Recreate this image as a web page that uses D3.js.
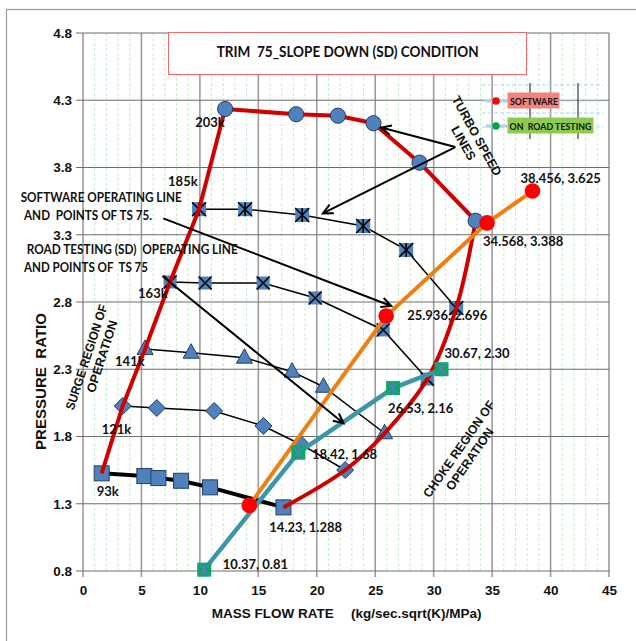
<!DOCTYPE html>
<html>
<head>
<meta charset="utf-8">
<script src="https://cdn.jsdelivr.net/npm/d3@7"></script>
<style>
  body { margin: 0; background: #fff; }
  svg text { font-family: "Liberation Sans", Arial, sans-serif; font-weight: bold; fill: #111; }
  svg text.cal { font-family: Lato, "Open Sans", sans-serif; }
</style>
</head>
<body>
<svg id="chart" width="636" height="641"></svg>
<script>
// ---- data ----
const xTicks = [0, 5, 10, 15, 20, 25, 30, 35, 40, 45];
const yTicks = [0.8, 1.3, 1.8, 2.3, 2.8, 3.3, 3.8, 4.3, 4.8];

const speedNames = ["93k", "121k", "141k", "163k", "185k", "203k"];
const flow93  = [1.60, 5.25, 6.45, 8.39, 10.87, 17.15];
const pr93    = [1.526, 1.506, 1.491, 1.471, 1.422, 1.273];
const flow121 = [3.40, 6.31, 11.22, 15.44, 18.72, 22.43];
const pr121   = [2.027, 2.012, 1.990, 1.878, 1.737, 1.551];
const flow141 = [5.31, 9.25, 13.81, 17.89, 20.57, 25.80];
const pr141   = [2.451, 2.423, 2.386, 2.282, 2.170, 1.824];
const flow163 = [7.45, 10.45, 15.41, 19.86, 25.68, 29.45];
const pr163   = [2.949, 2.941, 2.941, 2.830, 2.592, 2.227];
const flow185 = [9.93, 13.87, 18.75, 23.97, 27.65, 31.93];
const pr185   = [3.490, 3.490, 3.447, 3.365, 3.187, 2.755];
const flow203 = [12.16, 18.24, 21.81, 24.85, 28.79, 33.59];
const pr203   = [4.235, 4.196, 4.185, 4.129, 3.836, 3.404];

const softFlow = [14.23, 25.936, 34.568, 38.456];
const softPR   = [1.288, 2.696, 3.388, 3.625];
const softText = ["14.23, 1.288", "25.936, 2.696", "34.568, 3.388", "38.456, 3.625"];

const roadFlow = [10.37, 18.42, 26.53, 30.67];
const roadPR   = [0.81, 1.68, 2.16, 2.30];
const roadText = ["10.37, 0.81", "18.42, 1.68", "26.53, 2.16", "30.67, 2.30"];

// ---- layout ----
const svg = d3.select("#chart");
const x = d3.scaleLinear().domain([0, 45]).range([83, 609]);
const y = d3.scaleLinear().domain([0.8, 4.8]).range([571, 33]);

const speedFlows = [flow93, flow121, flow141, flow163, flow185, flow203];
const speedPRs = [pr93, pr121, pr141, pr163, pr185, pr203];
const speedMarkers = ["square", "diamond", "triangle", "xbox", "starbox", "circle"];
const speedLabelOff = [[-5, 23], [-21, 28], [-30, 17], [-32, 16], [-31, -23], [-30, 18]];

const speedLines = speedNames.map((name, i) => ({
  name: name,
  marker: speedMarkers[i],
  pts: speedFlows[i].map((f, j) => [f, speedPRs[i][j]])
}));

// outer frame
svg.append("rect").attr("x", 6.5).attr("y", 9.5).attr("width", 700).attr("height", 700)
  .attr("fill", "none").attr("stroke", "#9a9a9a").attr("stroke-width", 1.2);

// minor grid
const minorX = d3.range(1, 45).filter(v => v % 5 !== 0);
svg.append("g").selectAll("line").data(minorX).enter().append("line")
  .attr("x1", d => x(d)).attr("x2", d => x(d)).attr("y1", y(4.8)).attr("y2", y(0.8))
  .attr("stroke", "#c8eec8").attr("stroke-width", 1).attr("stroke-dasharray", "3,2");

// major grid
svg.append("g").selectAll("line").data(xTicks).enter().append("line")
  .attr("x1", d => x(d)).attr("x2", d => x(d)).attr("y1", y(4.8)).attr("y2", y(0.8) + 6)
  .attr("stroke", "#9c9c9c").attr("stroke-width", 1.6);
svg.append("g").selectAll("line").data(yTicks).enter().append("line")
  .attr("x1", x(0) - 7).attr("x2", x(45)).attr("y1", d => y(d)).attr("y2", d => y(d))
  .attr("stroke", "#6e6e6e").attr("stroke-width", 1.1);

// axes (labels only, grid draws the lines)
const yAxis = svg.append("g").attr("transform", `translate(${x(0)},0)`)
  .call(d3.axisLeft(y).tickValues(yTicks).tickFormat(d3.format(".1f")).tickSize(0).tickPadding(11));
const xAxis = svg.append("g").attr("transform", `translate(0,${y(0.8)})`)
  .call(d3.axisBottom(x).tickValues(xTicks).tickSize(0).tickPadding(14));
[yAxis, xAxis].forEach(a => {
  a.select(".domain").remove();
  a.selectAll("text").attr("font-size", 13.5).attr("fill", "#111")
    .style("font-family", '"Liberation Sans", Arial, sans-serif').style("font-weight", "bold");
});

// axis titles
svg.append("text").attr("x", 211.7).attr("y", 618).attr("font-size", 13.5).text("MASS FLOW RATE");
svg.append("text").attr("x", 351).attr("y", 618).attr("font-size", 13.5).text("(kg/sec.sqrt(K)/MPa)");
svg.append("text").attr("transform", "translate(46,381.5) rotate(-90)").attr("text-anchor", "middle")
  .attr("font-size", 15).attr("textLength", 137).attr("lengthAdjust", "spacingAndGlyphs")
  .style("white-space", "pre").text("PRESSURE  RATIO");

// title box
svg.append("rect").attr("x", 168.5).attr("y", 32.5).attr("width", 358).attr("height", 42)
  .attr("fill", "#fff").attr("stroke", "#ee6a6a").attr("stroke-width", 1);
svg.append("text").attr("class", "cal").attr("x", 216.7).attr("y", 57).attr("font-size", 15)
  .attr("textLength", 262).attr("lengthAdjust", "spacingAndGlyphs").style("white-space", "pre")
  .text("TRIM  75_SLOPE DOWN (SD) CONDITION");

// legend
const lg = svg.append("g");
[85, 101, 113, 127].forEach(v => {
  lg.append("line").attr("x1", 482).attr("x2", 603).attr("y1", v).attr("y2", v)
    .attr("stroke", "#a6d8f2").attr("stroke-width", 1.2).attr("stroke-dasharray", "4,2");
});
[530, 578].forEach(v => {
  lg.append("line").attr("x1", v).attr("x2", v).attr("y1", 83).attr("y2", 139)
    .attr("stroke", "#555").attr("stroke-width", 1.4);
});
lg.append("line").attr("x1", 486).attr("x2", 507).attr("y1", 101).attr("y2", 101).attr("stroke", "#b9cdea").attr("stroke-width", 3);
lg.append("line").attr("x1", 486).attr("x2", 507).attr("y1", 126).attr("y2", 126).attr("stroke", "#b9cdea").attr("stroke-width", 3);
lg.append("circle").attr("cx", 496).attr("cy", 101).attr("r", 3.8).attr("fill", "#ff0000");
lg.append("circle").attr("cx", 496).attr("cy", 126).attr("r", 3.8).attr("fill", "#00a650");
lg.append("rect").attr("x", 507.5).attr("y", 92.5).attr("width", 52).attr("height", 16).attr("fill", "#f2837e");
lg.append("rect").attr("x", 507.5).attr("y", 117.5).attr("width", 86).attr("height", 16).attr("fill", "#8dcb4e");
lg.append("text").attr("class", "cal").attr("x", 510).attr("y", 104.5).attr("font-size", 10)
  .attr("textLength", 48).attr("lengthAdjust", "spacingAndGlyphs").attr("fill", "#3a2a2a").text("SOFTWARE");
lg.append("text").attr("class", "cal").attr("x", 509.5).attr("y", 129.5).attr("font-size", 10)
  .attr("textLength", 82).attr("lengthAdjust", "spacingAndGlyphs").attr("fill", "#1f2a10")
  .style("white-space", "pre").text("ON  ROAD TESTING");

// ---- marks ----
const line = d3.line().x(d => x(d[0])).y(d => y(d[1]));
const smooth = d3.line().x(d => x(d[0])).y(d => y(d[1])).curve(d3.curveCatmullRom.alpha(0.5));

// speed lines (black), 203k is part of the red envelope
speedLines.slice(0, 5).forEach((s, i) => {
  svg.append("path").datum(s.pts).attr("d", line).attr("fill", "none")
    .attr("stroke", "#000").attr("stroke-width", i === 0 ? 4 : 1.5);
});

const BLUE = "#4f81bd", EDGE = "#233f66";
function marker(type, cx, cy) {
  const g = svg.append("g").attr("transform", `translate(${cx},${cy})`);
  if (type === "circle") {
    g.append("circle").attr("r", 7.6).attr("fill", BLUE).attr("stroke", EDGE).attr("stroke-width", 1);
  } else if (type === "square") {
    g.append("rect").attr("x", -7.5).attr("y", -7.5).attr("width", 15).attr("height", 15)
      .attr("fill", BLUE).attr("stroke", EDGE).attr("stroke-width", 1);
  } else if (type === "diamond") {
    g.append("path").attr("d", "M0,-8.5L8.5,0L0,8.5L-8.5,0Z").attr("fill", BLUE).attr("stroke", EDGE).attr("stroke-width", 1);
  } else if (type === "triangle") {
    g.append("path").attr("d", "M0,-9L8,5.5L-8,5.5Z").attr("fill", BLUE).attr("stroke", EDGE).attr("stroke-width", 1);
  } else {
    const h = type === "starbox" ? 7 : 6.5;
    g.append("rect").attr("x", -h).attr("y", -h).attr("width", 2 * h).attr("height", 2 * h).attr("fill", BLUE);
    g.append("path").attr("d", `M${-h},${-h}L${h},${h}M${-h},${h}L${h},${-h}` + (type === "starbox" ? `M0,${-h}L0,${h}` : ""))
      .attr("stroke", "#000").attr("stroke-width", 1.6);
  }
}
speedLines.slice(0, 5).forEach(s => s.pts.forEach(p => marker(s.marker, x(p[0]), y(p[1]))));

// red envelope: surge line + top speed line, then choke line
const surgeTop = speedLines.map(s => s.pts[0]).concat(speedLines[5].pts.slice(1));
const choke = speedLines.map(s => s.pts[s.pts.length - 1]).reverse();
svg.append("path").datum(surgeTop).attr("d", line).attr("fill", "none")
  .attr("stroke", "#d00000").attr("stroke-width", 4).attr("stroke-linejoin", "round");
svg.append("path").datum(choke).attr("d", smooth).attr("fill", "none")
  .attr("stroke", "#d00000").attr("stroke-width", 4);
speedLines[5].pts.forEach(p => marker("circle", x(p[0]), y(p[1])));

// road testing and software operating lines
const roadPts = roadFlow.map((f, i) => [f, roadPR[i]]);
const softPts = softFlow.map((f, i) => [f, softPR[i]]);
svg.append("path").datum(roadPts).attr("d", line).attr("fill", "none").attr("stroke", "#3c96aa").attr("stroke-width", 4.5);
svg.append("path").datum(softPts).attr("d", line).attr("fill", "none").attr("stroke", "#f07f12").attr("stroke-width", 4);

roadPts.forEach(p => {
  const g = svg.append("g").attr("transform", `translate(${x(p[0])},${y(p[1])})`);
  g.append("rect").attr("x", -7).attr("y", -7).attr("width", 14).attr("height", 14).attr("fill", "#00b050");
  g.append("path").attr("d", "M-6,-6L6,6M-6,6L6,-6M0,-7L0,7").attr("stroke", BLUE).attr("stroke-width", 1.8);
});
svg.selectAll(".soft").data(softPts).enter().append("circle")
  .attr("cx", d => x(d[0])).attr("cy", d => y(d[1])).attr("r", 7.8).attr("fill", "#ff0000");

// ---- annotations ----
function arrow(p1, p2) {
  const x1 = x(p1[0]), y1 = y(p1[1]), x2 = x(p2[0]), y2 = y(p2[1]);
  const a = Math.atan2(y2 - y1, x2 - x1), L = 11, w = 0.45;
  svg.append("path")
    .attr("d", `M${x1},${y1}L${x2},${y2}M${x2 - L * Math.cos(a - w)},${y2 - L * Math.sin(a - w)}L${x2},${y2}L${x2 - L * Math.cos(a + w)},${y2 - L * Math.sin(a + w)}`)
    .attr("fill", "none").attr("stroke", "#000").attr("stroke-width", 2);
}
arrow([6.87, 3.422], [26.37, 2.77]);
arrow([6.79, 2.993], [22.29, 1.898]);
arrow([31.85, 3.952], [25.51, 4.097]);
arrow([31.85, 3.952], [20.52, 3.459]);

// speed labels
speedLines.forEach((s, i) => {
  svg.append("text").attr("class", "cal").attr("font-size", 13)
    .attr("x", x(s.pts[0][0]) + speedLabelOff[i][0]).attr("y", y(s.pts[0][1]) + speedLabelOff[i][1])
    .text(s.name);
});

// point value labels
const softOff = [[20, 26.6], [21, 4], [-4, 23], [-12, -8]];
const roadOff = [[18.6, -1], [13.6, 6.4], [-5, 25], [3, -11]];
softPts.forEach((p, i) => svg.append("text").attr("class", "cal").attr("font-size", 13)
  .attr("x", x(p[0]) + softOff[i][0]).attr("y", y(p[1]) + softOff[i][1]).text(softText[i]));
roadPts.forEach((p, i) => svg.append("text").attr("class", "cal").attr("font-size", 13)
  .attr("x", x(p[0]) + roadOff[i][0]).attr("y", y(p[1]) + roadOff[i][1]).text(roadText[i]));

// left notes
const notes = [
  ["SOFTWARE OPERATING LINE", 20.7, 202, 161],
  ["AND  POINTS OF TS 75.", 24, 220, 128],
  ["ROAD TESTING (SD)  OPERATING LINE", 26.7, 254, 211],
  ["AND POINTS OF  TS 75", 24, 271.5, 124]
];
notes.forEach(n => svg.append("text").attr("class", "cal").attr("font-size", 13)
  .attr("x", n[1]).attr("y", n[2]).attr("textLength", n[3]).attr("lengthAdjust", "spacingAndGlyphs")
  .style("white-space", "pre").text(n[0]));

// rotated region notes
const rotNotes = [
  ["TURBO SPEED", 476.5, 136, 61, 89],
  ["LINES", 463.3, 143.3, 61, 37],
  ["SURGE REGION OF", 86.8, 357.3, -72, 110],
  ["OPERATION", 102.3, 356.5, -72, 75],
  ["CHOKE REGION OF", 459.2, 449.2, -55, 115],
  ["OPERATION", 470, 459.2, -55, 73]
];
rotNotes.forEach(n => svg.append("text")
  .attr("transform", `translate(${n[1]},${n[2]}) rotate(${n[3]})`)
  .attr("text-anchor", "middle").attr("dominant-baseline", "central").attr("font-size", 12.5)
  .attr("textLength", n[4]).attr("lengthAdjust", "spacingAndGlyphs").text(n[0]));
</script>
</body>
</html>
